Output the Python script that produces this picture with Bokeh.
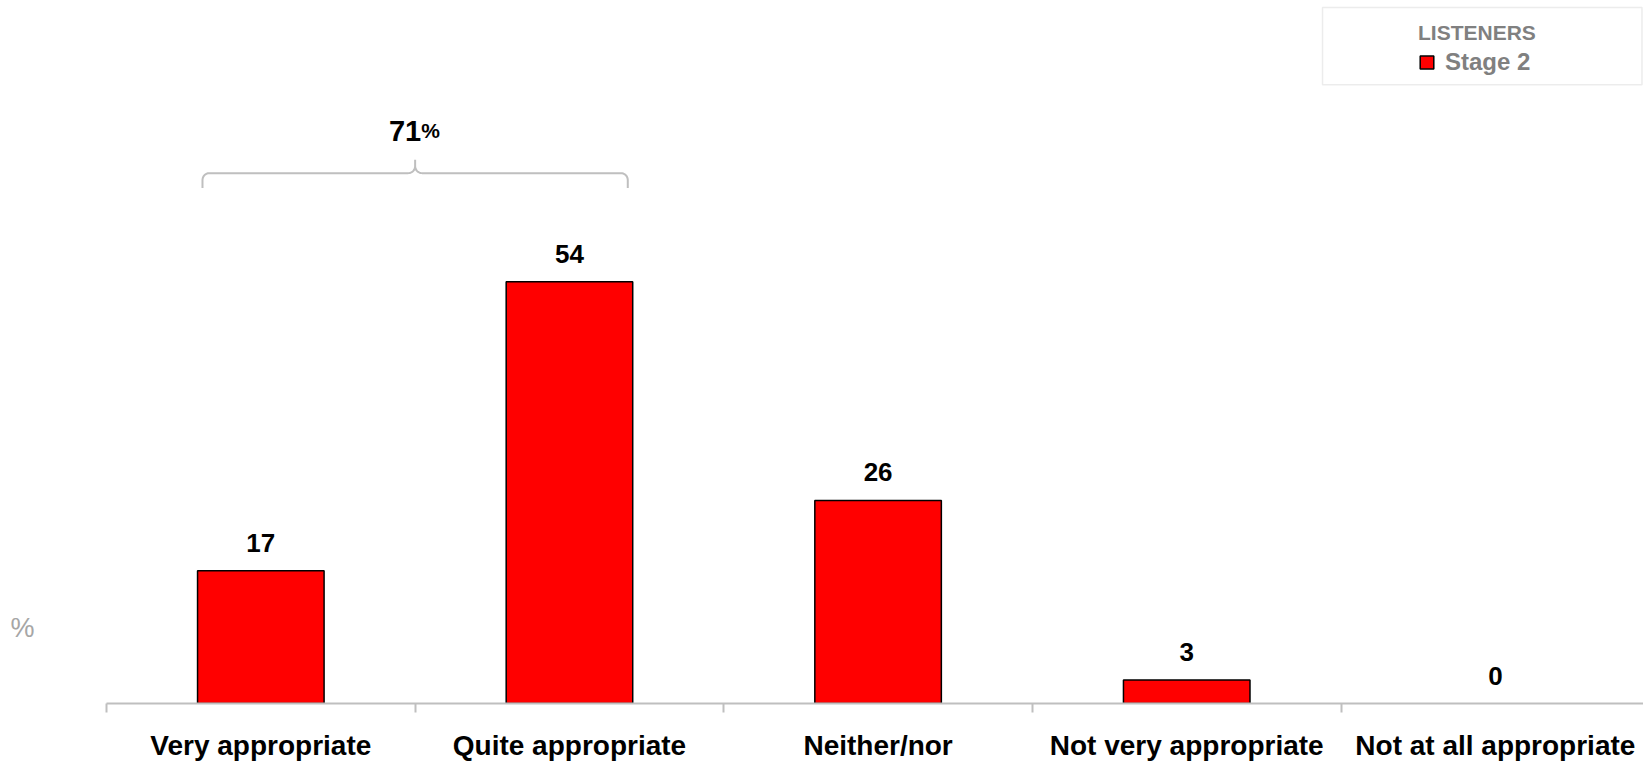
import numpy as np
from bokeh.plotting import figure
from bokeh.models import (ColumnDataSource, Range1d, FixedTicker, Legend,
                          BoxAnnotation)
from bokeh.core.properties import value
from bokeh.embed import file_html
from bokeh.resources import INLINE

# ---- data ----
categories = ["Very appropriate", "Quite appropriate", "Neither/nor",
              "Not very appropriate", "Not at all appropriate"]
stage2 = [17, 54, 26, 3, 0]
series_name = "Stage 2"
legend_title = "LISTENERS"
net_members = [0, 1]          # categories combined into the bracketed total
unit_label = "%"

FONT = "Liberation Sans"
GRAY_AXIS = "#bfbfbf"
GRAY_TEXT = "#808080"
BAR_W = 0.41

centers = np.arange(len(categories)) + 0.5
boundaries = np.arange(len(categories)).tolist()

src = ColumnDataSource(dict(
    x=centers,
    top=stage2,
    label=[str(v) for v in stage2],
    line_alpha=[1.0 if v > 0 else 0.0 for v in stage2],
))

p = figure(frame_width=1537, frame_height=703, output_backend="svg",
           toolbar_location=None,
           x_range=Range1d(0, 4.98), y_range=Range1d(0, 90),
           min_border_left=106, min_border_right=0, min_border_top=0,
           min_border_bottom=58)
p.outline_line_color = None
p.xgrid.visible = False
p.ygrid.visible = False

# y axis carries only the unit caption near the bottom
yax = p.yaxis[0]
yax.ticker = FixedTicker(ticks=[9.7])
yax.major_label_overrides = {9.7: unit_label}
yax.axis_line_color = None
yax.major_tick_line_color = None
yax.minor_tick_line_color = None
yax.major_tick_out = 0
yax.major_tick_in = 0
yax.major_label_standoff = 72
yax.major_label_text_font = FONT
yax.major_label_text_font_size = "27px"
yax.major_label_text_color = "#a6a6a6"

# x axis: labels at category centres, short ticks on the category boundaries
ax = p.xaxis[0]
ax.ticker = FixedTicker(ticks=centers.tolist(), minor_ticks=boundaries)
ax.major_label_overrides = {float(c): name for c, name in zip(centers, categories)}
ax.major_tick_line_color = None
ax.major_tick_out = 0
ax.major_tick_in = 0
ax.minor_tick_line_color = GRAY_AXIS
ax.minor_tick_line_width = 2
ax.minor_tick_out = 9
ax.minor_tick_in = 0
ax.axis_line_color = GRAY_AXIS
ax.axis_line_width = 2
ax.major_label_standoff = 17
ax.major_label_text_font = FONT
ax.major_label_text_font_style = "bold"
ax.major_label_text_font_size = "28px"
ax.major_label_text_color = "black"

bars = p.vbar(x="x", top="top", bottom=0, width=BAR_W, source=src,
              fill_color="#ff0000", line_color="black", line_width=1.5,
              line_alpha="line_alpha")

p.text(x="x", y="top", text="label", source=src, y_offset=-28,
       text_align="center", text_baseline="alphabetic",
       text_font=value(FONT), text_font_style="bold",
       text_font_size="26px", text_color="black")

# bracket over the combined categories
i0, i1 = net_members[0], net_members[-1]
bx0 = centers[i0] - BAR_W / 2 + 0.016
bx1 = centers[i1] + BAR_W / 2 - 0.016
bxm = (bx0 + bx1) / 2
by = 67.9           # horizontal run
drop = 1.9          # end legs
rise = 1.7          # centre cusp
rx, ry = 0.022, 0.9

t = np.linspace(0, np.pi / 2, 10)
left_end = [(bx0 + rx - rx * np.cos(a), by - ry + ry * np.sin(a)) for a in t]
mid_l = [(bxm - rx + rx * np.sin(a), by + ry - ry * np.cos(a)) for a in t]
path = [(bx0, by - drop)] + left_end + mid_l + [(bxm, by + rise)]
mirror = [(2 * bxm - x, y) for x, y in reversed(path)]
full = path + mirror
p.line([q[0] for q in full], [q[1] for q in full],
       line_color=GRAY_AXIS, line_width=2)

net_total = sum(stage2[i] for i in net_members)
p.text(x=[bxm], y=[73.3], text=[str(net_total)], x_offset=6,
       text_align="right", text_baseline="alphabetic",
       text_font=value(FONT), text_font_style="bold", text_font_size="29px",
       text_color="black")
p.text(x=[bxm], y=[73.3], text=["%"], x_offset=6,
       text_align="left", text_baseline="alphabetic",
       text_font=value(FONT), text_font_style="bold", text_font_size="21px",
       text_color="black")

# legend frame and legend
p.add_layout(BoxAnnotation(left=3.94, right=4.975, bottom=79.2, top=89.1,
                           fill_color="white", fill_alpha=1.0,
                           line_color=GRAY_AXIS, line_width=1.5))
legend = Legend(items=[(series_name, [bars])], title=legend_title,
                location=(1312, 627), padding=0, margin=0,
                border_line_color=None, background_fill_alpha=0.0,
                glyph_width=17, glyph_height=16, label_standoff=10,
                title_standoff=3,
                title_text_font=FONT, title_text_font_style="bold",
                title_text_font_size="21px", title_text_color=GRAY_TEXT,
                label_text_font=FONT, label_text_font_style="bold",
                label_text_font_size="24px", label_text_color=GRAY_TEXT)
p.add_layout(legend)

open("out.html", "w").write(file_html(p, INLINE))
